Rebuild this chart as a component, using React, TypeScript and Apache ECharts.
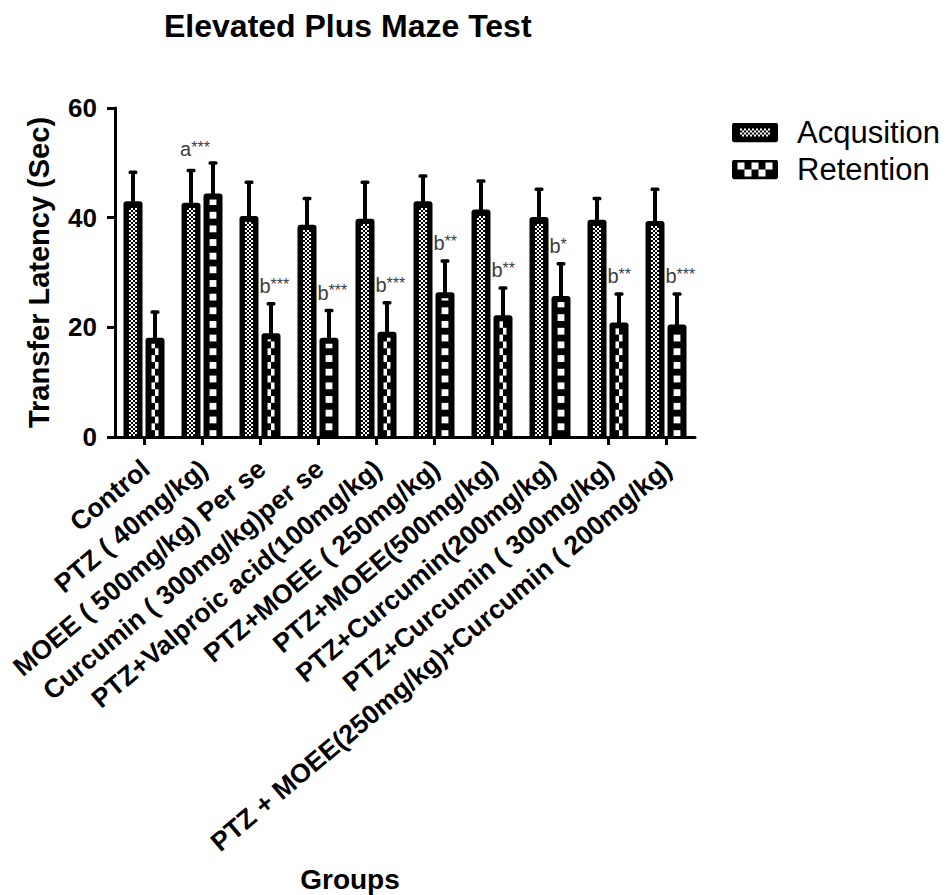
import React, { useEffect, useRef } from "react";
import * as echarts from "echarts";

const categories = [
  "Control",
  "PTZ ( 40mg/kg)",
  "MOEE ( 500mg/kg) Per se",
  "Curcumin ( 300mg/kg)per se",
  "PTZ+Valproic acid(100mg/kg)",
  "PTZ+MOEE ( 250mg/kg)",
  "PTZ+MOEE(500mg/kg)",
  "PTZ+Curcumin(200mg/kg)",
  "PTZ+Curcumin ( 300mg/kg)",
  "PTZ + MOEE(250mg/kg)+Curcumin ( 200mg/kg)",
];
const acquisition = [43.0, 42.7, 40.3, 38.7, 39.8, 43.0, 41.5, 40.1, 39.6, 39.4];
const acquisitionErr = [5.6, 6.2, 6.5, 5.1, 7.0, 4.9, 5.5, 5.4, 4.2, 6.1];
const retention = [18.1, 44.4, 18.9, 18.1, 19.2, 26.4, 22.2, 25.7, 20.9, 20.5];
const retentionErr = [5.0, 5.9, 5.7, 5.3, 5.6, 6.0, 5.3, 6.2, 5.5, 5.9];
const annotations = ["", "a***", "b***", "b***", "b***", "b**", "b**", "b*", "b**", "b***"];
const seriesNames = ["Acqusition", "Retention"];
const yMin = 0;
const yMax = 60;
const yInterval = 20;

const FONT = "'Liberation Sans', Arial, Helvetica, sans-serif";
const BAR_W = 19;
const BAR_GAP = 3;
const ANN_COLOR = "#3d3d3d";

function svgIcon(kind: "acq" | "ret"): string {
  let s = `<svg xmlns='http://www.w3.org/2000/svg' width='46' height='20' viewBox='0 0 46 20'><rect width='46' height='20' rx='3' fill='black'/>`;
  if (kind === "acq") {
    for (let r = 0; r < 4; r++) {
      for (let c = 0; c < 15; c++) {
        if ((r + c) % 2 === 0) s += `<rect x='${8 + 2 * c}' y='${6 + 2 * r}' width='2' height='2' fill='white'/>`;
      }
    }
  } else {
    for (let r = 0; r < 2; r++) {
      for (let c = 0; c < 5; c++) {
        if ((r + c) % 2 === 0) s += `<rect x='${5.5 + 7 * c}' y='${3 + 7 * r}' width='7' height='7' fill='white'/>`;
      }
    }
  }
  s += "</svg>";
  return "image://data:image/svg+xml;charset=utf-8," + encodeURIComponent(s);
}

function makeRenderItem(kind: "acq" | "ret") {
  return (params: any, api: any) => {
    const i = api.value(0);
    const v = api.value(1);
    const e = api.value(2);
    const band = api.size([1, 0])[0];
    const base = api.coord([i, 0]);
    const top = api.coord([i, v]);
    const errTop = api.coord([i, v + e]);
    const off = (BAR_W + BAR_GAP) / 2;
    const cx = base[0] + (kind === "acq" ? -off : off);
    const by = base[1];
    const ty = top[1];
    const children: any[] = [];
    // error bar
    children.push({
      type: "rect",
      shape: { x: cx - 2, y: errTop[1] + 1, width: 4, height: ty - errTop[1] },
      style: { fill: "#000" },
    });
    children.push({
      type: "rect",
      shape: { x: cx - 4.5, y: errTop[1], width: 9, height: 3.5, r: 1.5 },
      style: { fill: "#000" },
    });
    // bar
    children.push({
      type: "rect",
      shape: { x: cx - BAR_W / 2, y: ty, width: BAR_W, height: by - ty, r: [3, 3, 0, 0] },
      style: { fill: "#000" },
    });
    if (kind === "acq") {
      const cell = 2;
      const L = cx - 4;
      const T = ty + 5;
      const B = by - 1;
      const rows = Math.floor((B - T) / cell);
      for (let r = 0; r < rows; r++) {
        for (let c = 0; c < 4; c++) {
          if ((r + c) % 2 === 0) {
            children.push({
              type: "rect",
              shape: { x: L + c * cell, y: B - (r + 1) * cell, width: cell, height: cell },
              style: { fill: "#fff" },
            });
          }
        }
      }
    } else {
      const cell = band / 8.5;
      const xg = api.coord([1, 0])[0] + off - cell / 2;
      const L = cx - 3.5;
      const R = cx + 3.5;
      const T = ty + 6;
      const B = by - 1;
      const k0 = Math.floor((L - xg) / cell);
      const k1 = Math.floor((R - xg) / cell);
      const j1 = Math.floor((by - T) / cell);
      for (let k = k0; k <= k1; k++) {
        for (let j = 0; j <= j1; j++) {
          if ((((k + j) % 2) + 2) % 2 !== 0) continue;
          const x0 = Math.max(L, xg + k * cell);
          const x1 = Math.min(R, xg + (k + 1) * cell);
          const y0 = Math.max(T, by - (j + 1) * cell);
          const y1 = Math.min(B, by - j * cell);
          if (x1 - x0 > 0.3 && y1 - y0 > 0.3) {
            children.push({
              type: "rect",
              shape: { x: x0, y: y0, width: x1 - x0, height: y1 - y0 },
              style: { fill: "#fff" },
            });
          }
        }
      }
      const ann = annotations[i];
      if (ann) {
        const letter = ann.charAt(0);
        const stars = ann.slice(1);
        const isA = letter === "a";
        children.push({
          type: "text",
          style: {
            text: `{l|${letter}}{s|${stars}}`,
            x: isA ? base[0] - 7 : cx - BAR_W / 2 - 2,
            y: isA ? errTop[1] - 2 : errTop[1] - 6,
            align: isA ? "center" : "left",
            verticalAlign: "bottom",
            rich: {
              l: { fontSize: 20, fontFamily: FONT, fill: ANN_COLOR, verticalAlign: "bottom" },
              s: { fontSize: 16, fontFamily: FONT, fill: ANN_COLOR, verticalAlign: "top" },
            },
          },
        });
      }
    }
    return { type: "group", children };
  };
}

export default function App() {
  const ref = useRef<HTMLDivElement>(null);
  useEffect(() => {
    document.body.style.margin = "0";
    if (!ref.current) return;
    const chart = echarts.init(ref.current, null, { renderer: "svg" });
    const acqData = categories.map((_, i) => [i, acquisition[i], acquisitionErr[i]]);
    const retData = categories.map((_, i) => [i, retention[i], retentionErr[i]]);
    chart.setOption({
      animation: false,
      backgroundColor: "#fff",
      title: {
        text: "Elevated Plus Maze Test",
        left: 159,
        top: 5,
        textStyle: { fontFamily: FONT, fontSize: 32, fontWeight: "bold", color: "#000" },
      },
      legend: {
        orient: "vertical",
        left: 727,
        top: 112,
        itemWidth: 46,
        itemHeight: 20,
        itemGap: 6,
        data: [
          { name: seriesNames[0], icon: svgIcon("acq") },
          { name: seriesNames[1], icon: svgIcon("ret") },
        ],
        textStyle: { fontFamily: FONT, fontSize: 31, color: "#000", lineHeight: 30, padding: [0, 0, 0, 14] },
      },
      grid: { left: 115, right: 253, top: 108, bottom: 458, containLabel: false, outerBoundsMode: "none" },
      xAxis: {
        type: "category",
        data: categories,
        boundaryGap: true,
        name: "Groups",
        nameLocation: "middle",
        nameGap: 442,
        nameTextStyle: {
          fontFamily: FONT,
          fontSize: 28,
          fontWeight: "bold",
          color: "#000",
          padding: [0, 110, 0, 0],
          verticalAlign: "middle",
        },
        axisLine: { show: true, lineStyle: { color: "#000", width: 3 } },
        axisTick: { show: true, alignWithLabel: true, length: 8, lineStyle: { color: "#000", width: 3 } },
        axisLabel: {
          interval: 0,
          rotate: 40,
          margin: 12,
          verticalAlign: "top",
          padding: [0, 9, 0, 0],
          fontFamily: FONT,
          fontSize: 26.5,
          fontWeight: "bold",
          color: "#000",
        },
        splitLine: { show: false },
      },
      yAxis: {
        type: "value",
        min: yMin,
        max: yMax,
        interval: yInterval,
        name: "Transfer Latency (Sec)",
        nameLocation: "middle",
        nameGap: 62,
        nameTextStyle: { fontFamily: FONT, fontSize: 29, fontWeight: "bold", color: "#000" },
        axisLine: { show: true, lineStyle: { color: "#000", width: 3 } },
        axisTick: { show: true, length: 8, lineStyle: { color: "#000", width: 3 } },
        axisLabel: { margin: 18, fontFamily: FONT, fontSize: 26, fontWeight: "bold", color: "#000" },
        splitLine: { show: false },
      },
      series: [
        {
          name: seriesNames[0],
          type: "custom",
          renderItem: makeRenderItem("acq"),
          data: acqData,
          encode: { x: 0, y: 1 },
          clip: false,
          z: 1,
        },
        {
          name: seriesNames[1],
          type: "custom",
          renderItem: makeRenderItem("ret"),
          data: retData,
          encode: { x: 0, y: 1 },
          clip: false,
          z: 1,
        },
      ],
    });
    return () => chart.dispose();
  }, []);
  return <div ref={ref} style={{ width: 948, height: 895 }} />;
}
